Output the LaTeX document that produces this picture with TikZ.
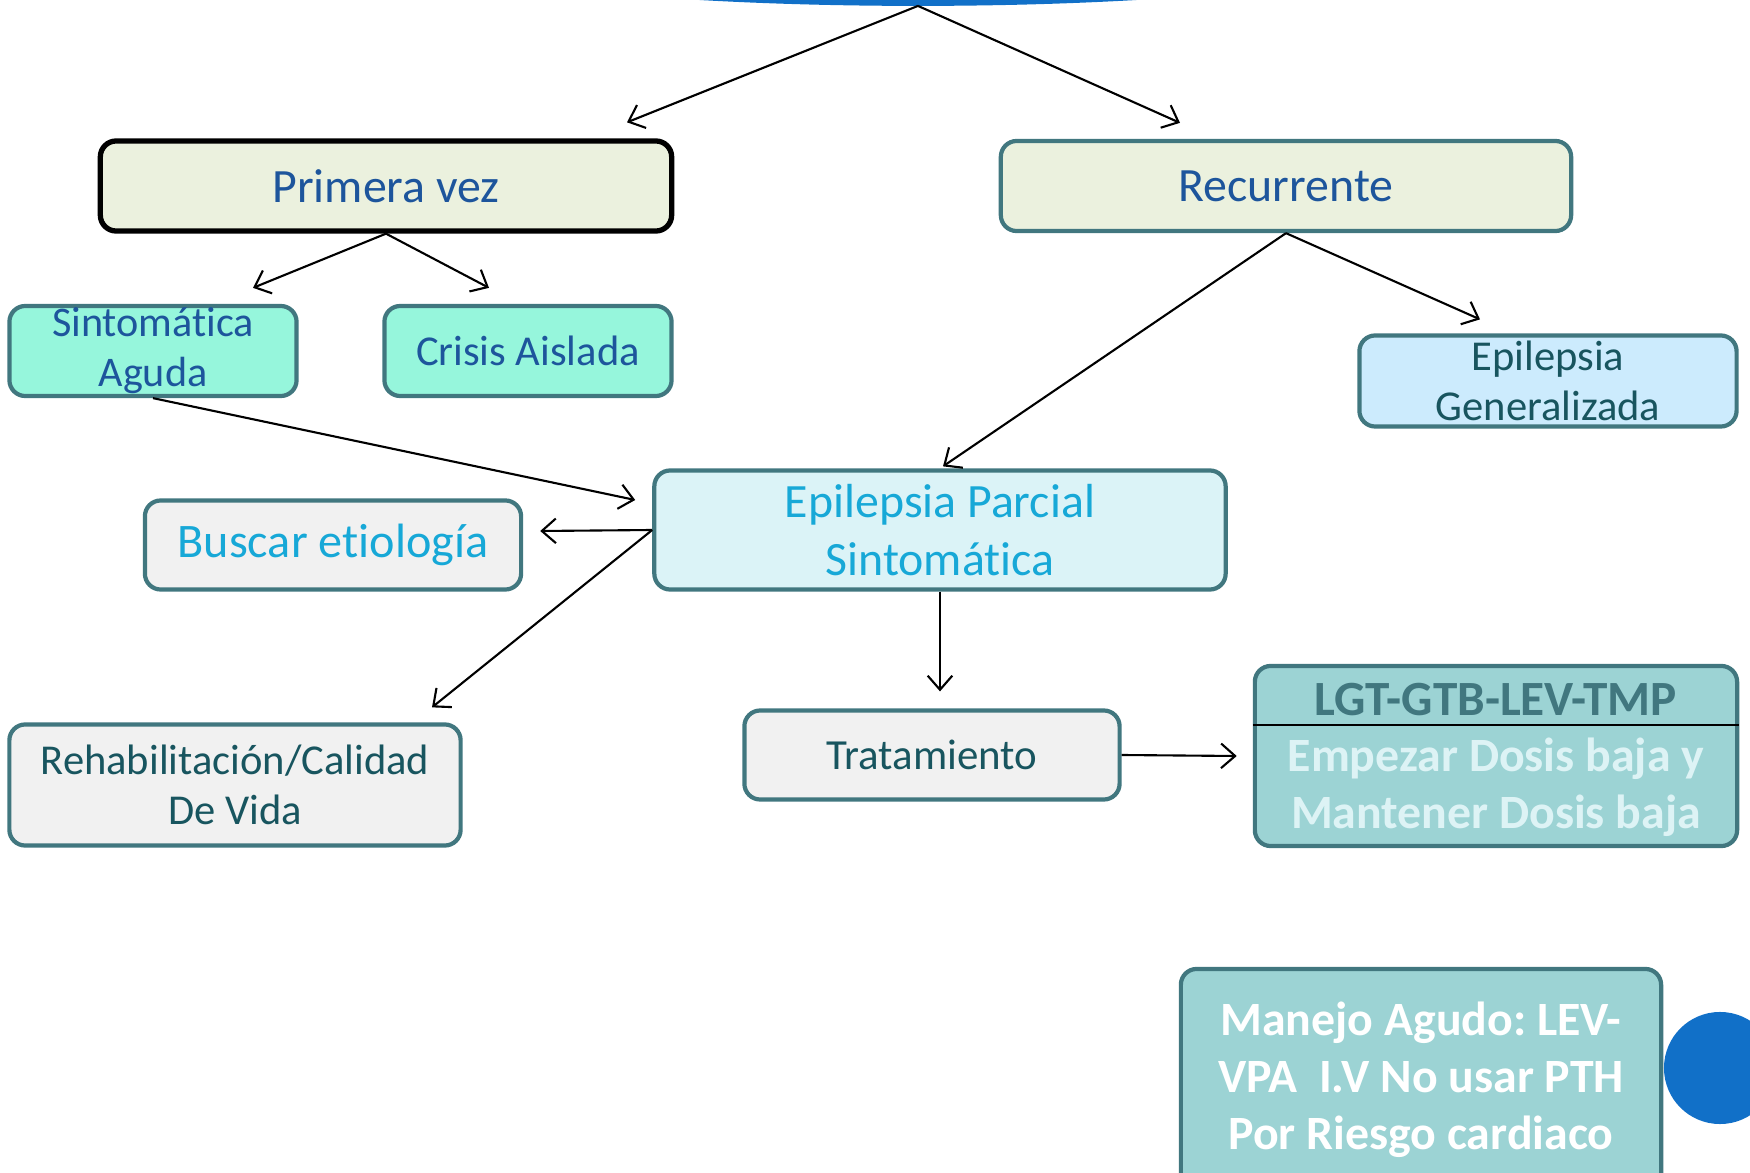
\documentclass[tikz,border=0pt]{standalone}
\usepackage{fontspec}
\setmainfont{Carlito}[Ligatures={NoCommon,NoContextual,NoRare}, Contextuals={NoAlternate}]
\usetikzlibrary{arrows.meta, positioning, calc, shapes.geometric}
\definecolor{boxline}{HTML}{41777F}
\definecolor{oliveback}{HTML}{EBF1DE}
\definecolor{navytext}{HTML}{1D559C}
\definecolor{mintback}{HTML}{96F6DC}
\definecolor{skyback}{HTML}{CCEBFD}
\definecolor{tealtext}{HTML}{18555F}
\definecolor{paleback}{HTML}{DBF3F7}
\definecolor{cyantext}{HTML}{17A8D7}
\definecolor{greyback}{HTML}{F1F1F1}
\definecolor{aquaback}{HTML}{9CD3D4}
\definecolor{aquatext}{HTML}{DDF3F5}
\definecolor{roundblue}{HTML}{1170C8}
\frenchspacing

\begin{document}
\begin{tikzpicture}[x=0.01cm, y=-0.01cm,
    box/.style={draw=boxline, line width=1.2pt, rounded corners=4.5pt,
                align=center, inner sep=0pt},
    link/.style={-{Straight Barb[length=4pt, width=7pt]}, line width=0.6pt}]
    \useasboundingbox (0,0) rectangle (1750,1173);
    \clip (0,0) rectangle (1750,1173);

    % top of the tree, cut by the page edge
    \node[ellipse, draw=roundblue, line width=2.2pt, fill=white,
          minimum width=10.24cm, minimum height=1.24cm] (root) at (918,-60) {};

    % first level
    \node[box, draw=black, line width=1.5pt, fill=oliveback, text=navytext,
          minimum width=5.71cm, minimum height=0.9cm,
          font=\fontsize{13.6}{16}\selectfont] (prim) at (386,186) {Primera vez};
    \node[box, fill=oliveback, text=navytext,
          minimum width=5.70cm, minimum height=0.9cm,
          font=\fontsize{13.6}{16}\selectfont] (recu) at (1286,186) {Recurrente};

    % second level
    \node[box, fill=mintback, text=navytext,
          minimum width=2.87cm, minimum height=0.9cm,
          font=\fontsize{12}{14.2}\selectfont] (sint) at (153,351) {Sintomática\\Aguda};
    \node[box, fill=mintback, text=navytext,
          minimum width=2.87cm, minimum height=0.9cm,
          font=\fontsize{12.1}{14.2}\selectfont] (cris) at (528,351) {Crisis Aislada};
    \node[box, fill=skyback, text=tealtext,
          minimum width=3.77cm, minimum height=0.91cm,
          font=\fontsize{12.1}{14.2}\selectfont] (gene) at (1548,381) {Epilepsia\\Generalizada};

    % partial epilepsy and what follows
    \node[box, fill=paleback, text=cyantext,
          minimum width=5.71cm, minimum height=1.19cm,
          font=\fontsize{13.6}{16.6}\selectfont] (parc) at (940,530) {Epilepsia Parcial\\Sintomática};
    \node[box, fill=greyback, text=cyantext,
          minimum width=3.76cm, minimum height=0.89cm,
          font=\fontsize{13.7}{16.6}\selectfont] (busc) at (333,545) {Buscar etiología};
    \node[box, fill=greyback, text=tealtext,
          minimum width=4.51cm, minimum height=1.21cm,
          font=\fontsize{12.1}{14.2}\selectfont] (reha) at (235,785) {Rehabilitación/Calidad\\De Vida};
    \node[box, fill=greyback, text=tealtext,
          minimum width=3.75cm, minimum height=0.89cm,
          font=\fontsize{12.2}{15}\selectfont] (trat) at (932,755) {Tratamiento};

    % drug box with a header line
    \node[box, fill=aquaback, minimum width=4.82cm, minimum height=1.8cm] (lgt) at (1496,756) {};
    \node[text=boxline, font=\fontsize{14}{16}\selectfont\bfseries] (lgthead) at (1496,700) {LGT-GTB-LEV-TMP};
    \draw[line width=0.6pt] ([yshift=0.31cm]lgt.west) -- ([yshift=0.31cm]lgt.east);
    \node[text=aquatext, align=center, font=\fontsize{13.6}{16.2}\selectfont\bfseries] (lgtbody) at (1496,787)
        {Empezar Dosis baja y\\Mantener Dosis baja};

    \node[box, fill=aquaback, text=white, minimum width=4.8cm, minimum height=2.22cm,
          font=\fontsize{13.6}{16.2}\selectfont\bfseries] (mane) at (1421,1080)
        {Manejo Agudo: LEV-\\VPA\ \ I.V No usar PTH\\Por Riesgo cardiaco};
    \node[circle, fill=roundblue, minimum size=1.12cm, inner sep=0pt] (dot) at (1720,1068) {};

    % connectors
    \draw[link] (root.south) -- ([shift={(241,-16)}]prim.north);
    \draw[link] (root.south) -- ([shift={(-106,-16)}]recu.north);
    \draw[link] (prim.south) -- ([shift={(100,-16)}]sint.north);
    \draw[link] (prim.south) -- ([shift={(-39,-16)}]cris.north);
    \draw[link] (recu.south) -- ([shift={(3,-2)}]parc.north);
    \draw[link] (recu.south) -- ([shift={(-68,-14)}]gene.north);
    \draw[link] (sint.south) -- ([shift={(-17,-30)}]parc.west);
    \draw[link] (parc.west) -- ([shift={(17,-14)}]busc.east);
    \draw[link] (parc.west) -- ([shift={(197,-15)}]reha.north);
    \draw[link] (parc.south) -- ($(parc.south |- trat.north)+(0,-17)$);
    \draw[link] (trat.east) -- ([xshift=-0.16cm]lgt.west);
\end{tikzpicture}
\end{document}
